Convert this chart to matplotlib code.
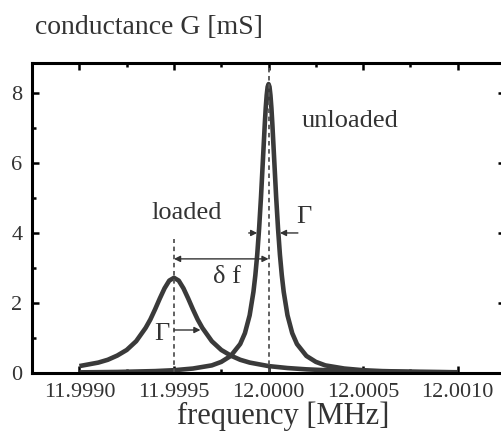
import matplotlib
matplotlib.use('Agg')
from matplotlib import pyplot as plt
from matplotlib.ticker import MultipleLocator

plt.rcParams['font.family'] = ['Liberation Serif', 'DejaVu Serif']

# values
freq_loaded = [11.99900, 11.99905, 11.99910, 11.99915, 11.99920, 11.99925, 11.99930,
               11.99935, 11.999375, 11.99940, 11.999425, 11.99945, 11.999475, 11.99950,
               11.999525, 11.99955, 11.999575, 11.99960, 11.999625, 11.99965, 11.99970,
               11.99975, 11.99980, 11.99985, 11.99990, 11.99995, 12.00000, 12.00010,
               12.00020, 12.00030, 12.00050, 12.00070, 12.00100]
g_loaded = [0.20, 0.25, 0.30, 0.38, 0.50, 0.66, 0.91, 1.29, 1.53, 1.82, 2.13, 2.42, 2.64,
            2.72, 2.64, 2.42, 2.13, 1.82, 1.53, 1.29, 0.91, 0.66, 0.50, 0.38, 0.30, 0.25,
            0.20, 0.144, 0.107, 0.083, 0.054, 0.037, 0.024]

freq_unloaded = [11.99900, 11.99920, 11.99940, 11.99950, 11.99960, 11.99970, 11.99975,
                 11.99980, 11.99985, 11.999875, 11.99990, 11.99992, 11.99993, 11.99994,
                 11.99995, 11.99996, 11.99997, 11.99998, 11.999985, 11.99999, 11.999995,
                 12.00000, 12.000005, 12.00001, 12.000015, 12.00002, 12.00003, 12.00004,
                 12.00005, 12.00006, 12.00007, 12.00008, 12.00010, 12.000125, 12.00015,
                 12.00020, 12.00025, 12.00030, 12.00040, 12.00050, 12.00060, 12.00080,
                 12.00100]
g_unloaded = [0.021, 0.032, 0.057, 0.082, 0.13, 0.22, 0.32, 0.49, 0.83, 1.14, 1.65, 2.32,
              2.79, 3.38, 4.13, 5.03, 6.07, 7.11, 7.57, 7.93, 8.17, 8.25, 8.17, 7.93, 7.57,
              7.11, 6.07, 5.03, 4.13, 3.38, 2.79, 2.32, 1.65, 1.14, 0.83, 0.49, 0.32, 0.22,
              0.13, 0.082, 0.057, 0.032, 0.021]

f_loaded = 11.9995
f_unloaded = 12.0000
xticks = [11.9990, 11.9995, 12.0000, 12.0005, 12.0010]
xtick_labels = ['11.9990', '11.9995', '12.0000', '12.0005', '12.0010']
yticks = [0, 2, 4, 6, 8]

ink = '#333333'
curve = '#3a3a3a'

fig = plt.figure(figsize=(5.02, 4.41), dpi=100)
ax = fig.add_axes([0.064, 0.154, 0.942, 0.703])

ax.plot(freq_loaded, g_loaded, color=curve, lw=3.3, solid_capstyle='butt')
ax.plot(freq_unloaded, g_unloaded, color=curve, lw=3.3, solid_capstyle='butt')

ax.vlines(f_loaded, 0, 3.83, colors='#555555', linestyles=(0, (2.5, 2)), lw=1.3)
ax.vlines(f_unloaded, 0, 8.85, colors='#555555', linestyles=(0, (2.5, 2)), lw=1.3)

# delta f arrow
ax.annotate('', xy=(f_loaded, 3.26), xytext=(f_unloaded, 3.26),
            arrowprops=dict(arrowstyle='<|-|>', color=ink, lw=1.0,
                            mutation_scale=9, shrinkA=0, shrinkB=0))
ax.text(11.999779, 2.74, 'δ f', fontsize=19, color=ink, ha='center', va='center')

# widths
ax.annotate('', xy=(11.99994, 4.0), xytext=(11.999895, 4.0),
            arrowprops=dict(arrowstyle='-|>', color=ink, lw=1.0,
                            mutation_scale=9, shrinkA=0, shrinkB=0))
ax.annotate('', xy=(12.00006, 4.0), xytext=(12.000155, 4.0),
            arrowprops=dict(arrowstyle='-|>', color=ink, lw=1.0,
                            mutation_scale=9, shrinkA=0, shrinkB=0))
ax.text(12.000184, 4.46, 'Γ', fontsize=19, color=ink, ha='center', va='center')

ax.annotate('', xy=(11.99964, 1.23), xytext=(f_loaded, 1.23),
            arrowprops=dict(arrowstyle='-|>', color=ink, lw=1.0,
                            mutation_scale=9, shrinkA=0, shrinkB=0))
ax.text(11.999437, 1.11, 'Γ', fontsize=19, color=ink, ha='center', va='center')

ax.text(11.999568, 4.57, 'loaded', fontsize=19, color=ink, ha='center', va='center')
ax.text(12.000432, 7.2, 'unloaded', fontsize=19, color=ink, ha='center', va='center')

ax.set_xlim(11.99875, 12.00125)
ax.set_ylim(0, 8.85)
ax.set_xticks(xticks, xtick_labels)
ax.set_yticks(yticks)
ax.xaxis.set_minor_locator(MultipleLocator(0.00025))
ax.yaxis.set_minor_locator(MultipleLocator(1))
ax.tick_params(which='both', direction='in', top=True, right=True, colors='black',
               labelcolor=ink, labelsize=16, width=1.8)
ax.tick_params(which='major', length=5, pad=7)
ax.tick_params(which='minor', length=3)
for s in ax.spines.values():
    s.set_linewidth(2.2)
    s.set_color('black')

fig.text(35 / 502, 1 - 28 / 441, 'conductance G [mS]', fontsize=20, color=ink,
         ha='left', va='center')
fig.text(283 / 502, 1 - 416 / 441, 'frequency [MHz]', fontsize=22, color=ink,
         ha='center', va='center')

fig.savefig('out.png', dpi=100)
